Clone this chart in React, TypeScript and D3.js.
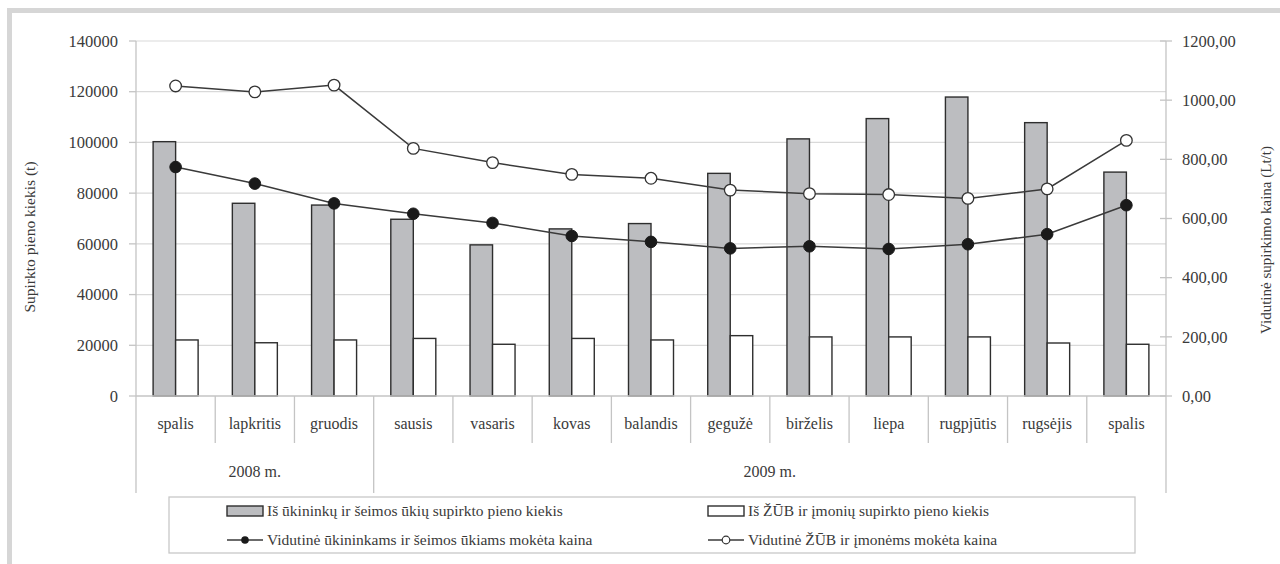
import React from 'react';
import * as d3 from 'd3';

// month labels along the x axis (Oct 2008 – Oct 2009)
const months = ['spalis', 'lapkritis', 'gruodis', 'sausis', 'vasaris', 'kovas', 'balandis', 'gegužė', 'birželis', 'liepa', 'rugpjūtis', 'rugsėjis', 'spalis'];
const years = [
  { label: '2008 m.', span: 3 },
  { label: '2009 m.', span: 10 },
];

// milk purchased, t
const farmQty = [100300, 76000, 75300, 69700, 59600, 65900, 68000, 87800, 101400, 109400, 117900, 107800, 88300];
const companyQty = [22100, 21000, 22100, 22700, 20400, 22700, 22100, 23800, 23300, 23300, 23300, 20900, 20400];

// average price paid, Lt/t
const farmPrice = [774, 718, 651, 616, 585, 541, 521, 499, 506, 497, 513, 547, 645];
const companyPrice = [1048, 1028, 1051, 837, 789, 749, 736, 696, 684, 681, 668, 700, 864];

const leftTicks = [0, 20000, 40000, 60000, 80000, 100000, 120000, 140000];
const rightTicks = [0, 200, 400, 600, 800, 1000, 1200];

const legendItems = [
  'Iš ūkininkų ir šeimos ūkių supirkto pieno kiekis',
  'Iš ŽŪB ir įmonių supirkto pieno kiekis',
  'Vidutinė ūkininkams ir šeimos ūkiams mokėta kaina',
  'Vidutinė ŽŪB ir įmonėms mokėta kaina',
];

const W = 1280;
const H = 564;
const FONT = "'Times New Roman', Times, 'Liberation Serif', 'DejaVu Serif', serif";

const BAR_GRAY = '#bcbdc0';
const EDGE = '#2e2e2e';
const GRID = '#d9d9d9';
const AXIS = '#c4c4c4';
const TEXT = '#3a3a3a';

export default function App() {
  const plot = { left: 136, right: 1166, top: 41, bottom: 396 };

  const x = d3.scaleBand<number>()
    .domain(d3.range(months.length))
    .range([plot.left, plot.right])
    .paddingInner(0.432)
    .paddingOuter(0.216);
  const sub = d3.scaleBand<string>()
    .domain(['farm', 'company'])
    .range([0, x.bandwidth()]);

  const yL = d3.scaleLinear().domain([0, 140000]).range([plot.bottom, plot.top]);
  const yR = d3.scaleLinear().domain([0, 1200]).range([plot.bottom, plot.top]);

  const step = x.step();
  const edgeAt = (i: number) => plot.left + i * step;
  const cx = (i: number) => x(i)! + x.bandwidth() / 2;

  const priceLine = (vals: number[]) =>
    d3.line<number>()
      .x((_, i) => cx(i))
      .y((d) => yR(d))(vals)!;

  const fmtR = (v: number) => d3.format('.2f')(v).replace('.', ',');

  // year group boundaries
  let acc = 0;
  const yearGroups = years.map((y) => {
    const g = { ...y, start: acc, end: acc + y.span };
    acc += y.span;
    return g;
  });

  const legend = { x: 169, y: 497, w: 966, h: 56 };
  const legendCols = [227, 708];
  const legendRows = [511, 540];

  return (
    <svg
      width={W}
      height={H}
      style={{ position: 'absolute', left: 0, top: 0, background: '#fff', fontFamily: FONT }}
    >
      {/* outer frame (only left and top visible) */}
      <rect x={7} y={8} width={W - 7} height={5} fill="#d6d6d6" />
      <rect x={7} y={8} width={5} height={H - 8} fill="#d6d6d6" />

      {/* gridlines */}
      {leftTicks.slice(1).map((t) => (
        <line key={t} x1={plot.left} x2={plot.right} y1={yL(t)} y2={yL(t)} stroke={GRID} strokeWidth={1.2} />
      ))}

      {/* bars */}
      {months.map((_, i) => (
        <g key={i}>
          <rect
            x={x(i)! + sub('farm')!}
            y={yL(farmQty[i])}
            width={sub.bandwidth()}
            height={plot.bottom - yL(farmQty[i])}
            fill={BAR_GRAY}
            stroke={EDGE}
            strokeWidth={1.4}
          />
          <rect
            x={x(i)! + sub('company')!}
            y={yL(companyQty[i])}
            width={sub.bandwidth()}
            height={plot.bottom - yL(companyQty[i])}
            fill="#fff"
            stroke={EDGE}
            strokeWidth={1.4}
          />
        </g>
      ))}

      {/* x axis line and category separators */}
      <line x1={plot.left} x2={plot.right} y1={plot.bottom} y2={plot.bottom} stroke={AXIS} strokeWidth={1.3} />
      {d3.range(1, months.length).map((i) => {
        const isYear = yearGroups.some((g) => g.end === i);
        return (
          <line key={i} x1={edgeAt(i)} x2={edgeAt(i)} y1={plot.bottom} y2={isYear ? 493 : 443} stroke={AXIS} strokeWidth={1.3} />
        );
      })}

      {/* left axis */}
      <line x1={plot.left} x2={plot.left} y1={plot.top} y2={493} stroke={AXIS} strokeWidth={1.3} />
      {leftTicks.map((t) => (
        <g key={t}>
          <line x1={plot.left - 7} x2={plot.left} y1={yL(t)} y2={yL(t)} stroke={AXIS} strokeWidth={1.3} />
          <text x={118} y={yL(t)} dy="0.35em" textAnchor="end" fontSize={16.5} fill={TEXT}>{t}</text>
        </g>
      ))}

      {/* right axis */}
      <line x1={plot.right} x2={plot.right} y1={plot.top} y2={493} stroke={AXIS} strokeWidth={1.3} />
      {rightTicks.map((t) => (
        <g key={t}>
          <line x1={plot.right - 6} x2={plot.right + 6} y1={yR(t)} y2={yR(t)} stroke={AXIS} strokeWidth={1.3} />
          <text x={1182} y={yR(t)} dy="0.35em" fontSize={16.5} fill={TEXT}>{fmtR(t)}</text>
        </g>
      ))}

      {/* price lines */}
      <path d={priceLine(farmPrice)} fill="none" stroke="#3a3a3a" strokeWidth={1.5} />
      <path d={priceLine(companyPrice)} fill="none" stroke="#3a3a3a" strokeWidth={1.5} />
      {farmPrice.map((v, i) => (
        <circle key={'f' + i} cx={cx(i)} cy={yR(v)} r={5.8} fill="#1a1a1a" stroke="#1a1a1a" strokeWidth={1} />
      ))}
      {companyPrice.map((v, i) => (
        <circle key={'c' + i} cx={cx(i)} cy={yR(v)} r={5.8} fill="#fff" stroke="#333" strokeWidth={1.3} />
      ))}

      {/* category labels */}
      {months.map((m, i) => (
        <text key={i} x={cx(i)} y={429} textAnchor="middle" fontSize={16} fill={TEXT}>{m}</text>
      ))}
      {yearGroups.map((g) => (
        <text key={g.label} x={(edgeAt(g.start) + edgeAt(g.end)) / 2} y={477} textAnchor="middle" fontSize={16} fill={TEXT}>
          {g.label}
        </text>
      ))}

      {/* axis titles */}
      <text transform="translate(35,237) rotate(-90)" textAnchor="middle" fontSize={15.5} fill={TEXT}>
        Supirkto pieno kiekis (t)
      </text>
      <text transform="translate(1271,240) rotate(-90)" textAnchor="middle" fontSize={15} fill={TEXT}>
        Vidutinė supirkimo kaina (Lt/t)
      </text>

      {/* legend */}
      <rect x={legend.x} y={legend.y} width={legend.w} height={legend.h} fill="#fff" stroke="#c8c8c8" strokeWidth={1.3} />
      <rect x={legendCols[0]} y={legendRows[0] - 5} width={36} height={10} fill={BAR_GRAY} stroke={EDGE} strokeWidth={1.4} />
      <rect x={legendCols[1]} y={legendRows[0] - 5} width={36} height={10} fill="#fff" stroke={EDGE} strokeWidth={1.4} />
      <line x1={legendCols[0]} x2={legendCols[0] + 36} y1={legendRows[1]} y2={legendRows[1]} stroke="#3a3a3a" strokeWidth={1.5} />
      <circle cx={legendCols[0] + 18} cy={legendRows[1]} r={3.8} fill="#1a1a1a" />
      <line x1={legendCols[1]} x2={legendCols[1] + 36} y1={legendRows[1]} y2={legendRows[1]} stroke="#3a3a3a" strokeWidth={1.5} />
      <circle cx={legendCols[1] + 18} cy={legendRows[1]} r={3.8} fill="#fff" stroke="#333" strokeWidth={1.2} />
      {legendItems.map((label, k) => (
        <text
          key={label}
          x={legendCols[k % 2] + 40}
          y={legendRows[Math.floor(k / 2)]}
          dy="0.35em"
          fontSize={15.5}
          fill={TEXT}
        >
          {label}
        </text>
      ))}
    </svg>
  );
}
